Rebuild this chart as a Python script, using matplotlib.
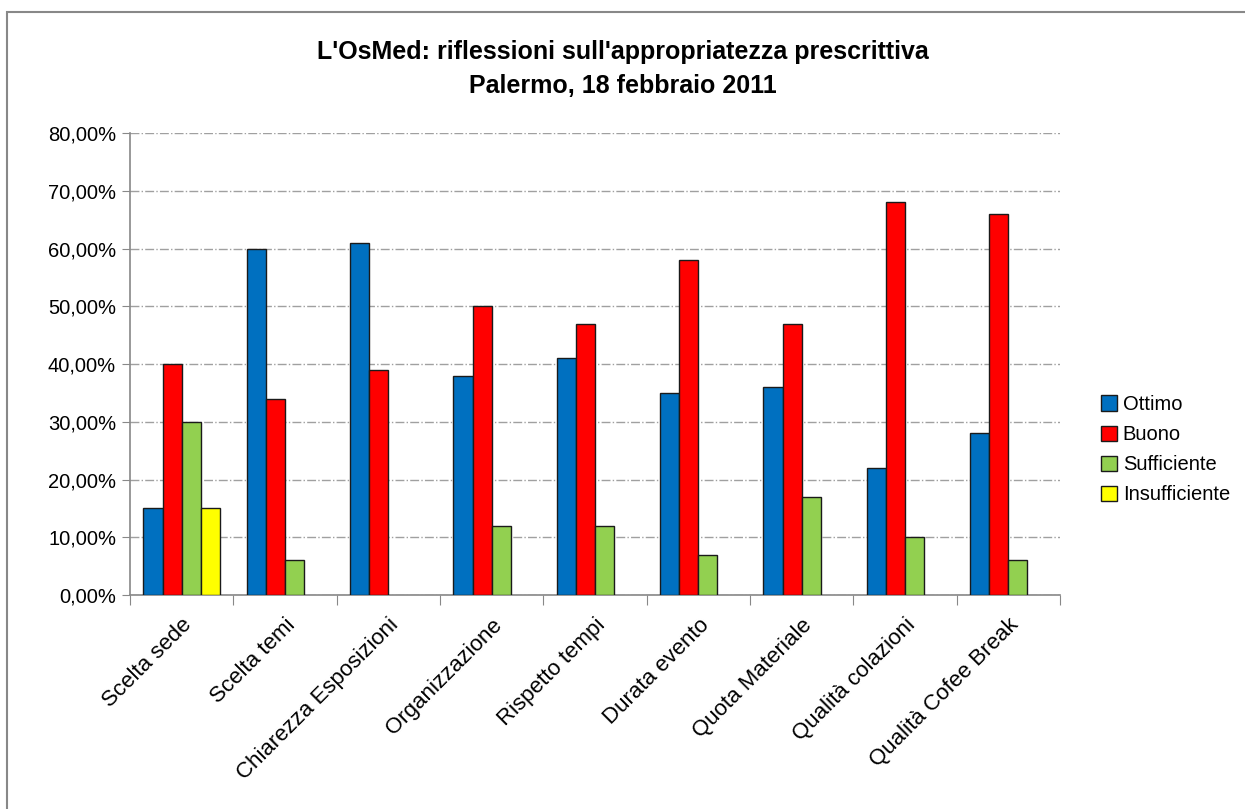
import numpy as np
import matplotlib.pyplot as plt
from matplotlib.patches import Rectangle
from matplotlib.ticker import FuncFormatter, MultipleLocator

# --- Data (percent) ---
categories = ['Scelta sede', 'Scelta temi', 'Chiarezza Esposizioni', 'Organizzazione',
              'Rispetto tempi', 'Durata evento', 'Quota Materiale', 'Qualità colazioni',
              'Qualità Cofee Break']
ottimo = [15, 60, 61, 38, 41, 35, 36, 22, 28]
buono = [40, 34, 39, 50, 47, 58, 47, 68, 66]
sufficiente = [30, 6, 0, 12, 12, 7, 17, 10, 6]
insufficiente = [15, 0, 0, 0, 0, 0, 0, 0, 0]

series_names = ['Ottimo', 'Buono', 'Sufficiente', 'Insufficiente']
colors = ['#0070C0', '#FF0000', '#92D050', '#FFFF00']
title_lines = ["L'OsMed: riflessioni sull'appropriatezza prescrittiva",
               "Palermo, 18 febbraio 2011"]


def main():
    plt.rcParams['font.family'] = ['Liberation Sans', 'DejaVu Sans']

    fig = plt.figure(figsize=(12.45, 8.09), dpi=100)
    ax = fig.add_axes([0.1044, 0.2645, 0.7470, 0.5711])

    # outer chart frame (runs off the right and bottom edge in the reference)
    top = 1 - 12 / 809
    fig.patches.append(Rectangle((7 / 1245, -0.5), 1.2, top + 0.5,
                                 transform=fig.transFigure, fill=False,
                                 edgecolor='#888888', linewidth=1.5))

    x = np.arange(len(categories))
    width = 0.185
    all_series = [ottimo, buono, sufficiente, insufficiente]
    for i, (vals, name, col) in enumerate(zip(all_series, series_names, colors)):
        offs = (i - 1.5) * width
        shown = [v if v > 0 else np.nan for v in vals]
        ax.bar(x + offs, shown, width, color=col, edgecolor='#1a1a1a',
               linewidth=1.0, label=name, zorder=3)

    ax.set_xlim(-0.5, len(categories) - 0.5)
    ax.set_ylim(0, 80)
    ax.yaxis.set_major_locator(MultipleLocator(10))
    ax.yaxis.set_major_formatter(FuncFormatter(lambda v, p: f'{v:.2f}%'.replace('.', ',')))
    ax.grid(axis='y', color='#a0a0a0', linestyle='-.', linewidth=1.0, zorder=0)

    # ticks sit between the groups, labels at group centres
    ax.set_xticks(np.arange(len(categories) + 1) - 0.5)
    ax.set_xticklabels([])
    ax.set_xticks(x, minor=True)
    ax.set_xticklabels(categories, minor=True, rotation=45, ha='right',
                       rotation_mode='anchor', fontsize=16)
    ax.tick_params(axis='x', which='minor', length=0, pad=14)
    ax.tick_params(axis='x', which='major', length=7, color='#888888')
    ax.tick_params(axis='y', length=6, color='#888888', labelsize=14.5, pad=4)

    for side in ['top', 'right']:
        ax.spines[side].set_visible(False)
    for side in ['left', 'bottom']:
        ax.spines[side].set_color('#888888')
        ax.spines[side].set_linewidth(1.2)

    fig.text(0.5, 1 - 52 / 809, title_lines[0], ha='center', va='center',
             fontsize=18, fontweight='bold')
    fig.text(0.5, 1 - 86 / 809, title_lines[1], ha='center', va='center',
             fontsize=18, fontweight='bold')

    handles, labels = ax.get_legend_handles_labels()
    fig.legend(handles, labels, loc='center left', bbox_to_anchor=(0.876, 0.444),
               frameon=False, fontsize=14.5, handlelength=0.8, handleheight=0.8,
               handletextpad=0.3, labelspacing=0.55, borderpad=0)

    fig.savefig('out.png', dpi=100)


if __name__ == "__main__":
    main()
